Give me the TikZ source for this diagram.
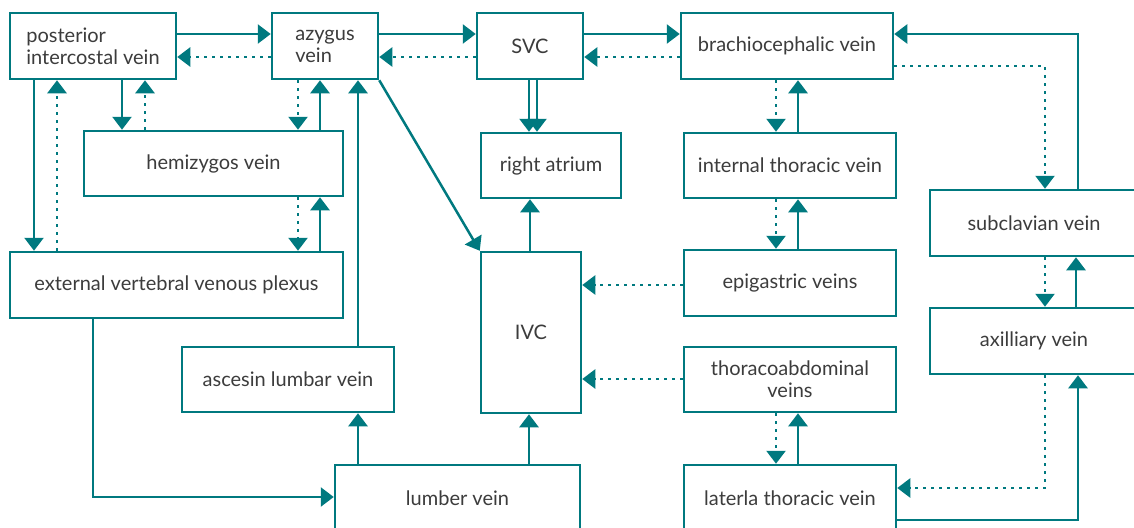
\documentclass[tikz,border=0pt]{standalone}
\usepackage{fontspec}
\setmainfont{Lato}
\usetikzlibrary{arrows.meta}

\definecolor{veinteal}{RGB}{0,121,127}
\definecolor{veintext}{RGB}{60,60,60}

\tikzset{
  vbox/.style={draw=veinteal, line width=2.5pt, fill=white, inner sep=0pt,
    text=veintext, font=\fontsize{20}{22}\selectfont, align=center},
  flow/.style={draw=veinteal, line width=2.5pt, -{Triangle[length=13pt,width=19pt]}},
  back/.style={flow, dash pattern=on 2.5pt off 5.5pt},
}

\begin{document}
\begin{tikzpicture}[x=1pt,y=1pt,yscale=-1,xscale=1]
        \useasboundingbox (0,0) rectangle (1134,527);
        \clip (0,0) rectangle (1134,527);

        % Text Node
        \draw (93,46) node [vbox, align=left, minimum width=166pt, minimum height=66pt] (pic) {posterior\\intercostal vein};
        % Text Node
        \draw (325,46) node [vbox, align=left, minimum width=106pt, minimum height=66pt] (azy) {azygus\\vein};
        % Text Node
        \draw (530,46) node [vbox, minimum width=106pt, minimum height=66pt] (svc) {SVC};
        % Text Node
        \draw (787,46) node [vbox, minimum width=212pt, minimum height=66pt] (brach) {brachiocephalic vein};
        % Text Node
        \draw (213.5,163.5) node [vbox, minimum width=259pt, minimum height=65pt] (hemi) {hemizygos vein};
        % Text Node
        \draw (551,165.5) node [vbox, minimum width=140pt, minimum height=65pt] (ra) {right atrium};
        % Text Node
        \draw (790,165.5) node [vbox, minimum width=212pt, minimum height=65pt] (int) {internal thoracic vein};
        % Text Node
        \draw (1034,223) node [vbox, minimum width=208pt, minimum height=66pt] (sub) {subclavian vein};
        % Text Node
        \draw (176.5,285) node [vbox, minimum width=333pt, minimum height=66pt] (ext) {external vertebral venous plexus};
        % Text Node
        \draw (790,283) node [vbox, minimum width=212pt, minimum height=66pt] (epi) {epigastric veins};
        % Text Node
        \draw (531,332.5) node [vbox, minimum width=100pt, minimum height=161pt] (ivc) {IVC};
        % Text Node
        \draw (1034,341) node [vbox, minimum width=208pt, minimum height=66pt] (axi) {axilliary vein};
        % Text Node
        \draw (288,379.5) node [vbox, minimum width=212pt, minimum height=65pt] (asc) {ascesin lumbar vein};
        % Text Node
        \draw (790,379.5) node [vbox, minimum width=212pt, minimum height=65pt] (tho) {thoracoabdominal\\veins};
        % Text Node
        \draw (457.5,498) node [vbox, minimum width=245pt, minimum height=66pt] (lum) {lumber vein};
        % Text Node
        \draw (790,498) node [vbox, minimum width=212pt, minimum height=66pt] (lat) {laterla thoracic vein};

        %Straight Lines: top row
        \draw [flow] (pic.east |- 0,34) -- (azy.west |- 0,34);
        \draw [back] (azy.west |- 0,57) -- (pic.east |- 0,57);
        \draw [flow] (azy.east |- 0,34) -- (svc.west |- 0,34);
        \draw [back] (svc.west |- 0,57) -- (azy.east |- 0,57);
        \draw [flow] (svc.east |- 0,34) -- (brach.west |- 0,34);
        \draw [back] (brach.west |- 0,57) -- (svc.east |- 0,57);

        %Straight Lines: left column
        \draw [flow] (34,0 |- pic.south) -- (34,0 |- ext.north);
        \draw [back] (57,0 |- ext.north) -- (57,0 |- pic.south);
        \draw [flow] (122,0 |- pic.south) -- (122,0 |- hemi.north);
        \draw [back] (145,0 |- hemi.north) -- (145,0 |- pic.south);
        \draw [back] (298,0 |- azy.south) -- (298,0 |- hemi.north);
        \draw [flow] (320,0 |- hemi.north) -- (320,0 |- azy.south);
        \draw [back] (298,0 |- hemi.south) -- (298,0 |- ext.north);
        \draw [flow] (320,0 |- ext.north) -- (320,0 |- hemi.south);
        \draw [flow] (358,0 |- asc.north) -- (358,0 |- azy.south);
        \draw [flow] (358,0 |- lum.north) -- (358,0 |- asc.south);
        \draw [flow] (93,0 |- ext.south) |- (lum.west |- 0,497);

        %Straight Lines: middle
        \draw [flow] (529,0 |- svc.south) -- (529,0 |- ra.north);
        \draw [flow] (537,0 |- svc.south) -- (537,0 |- ra.north);
        \draw [flow] (azy.south east) -- (ivc.north west);
        \draw [flow] (530,0 |- ivc.north) -- (530,0 |- ra.south);
        \draw [flow] (529,0 |- lum.north) -- (529,0 |- ivc.south);
        \draw [back] (epi.west |- 0,285) -- (ivc.east |- 0,285);
        \draw [back] (tho.west |- 0,379) -- (ivc.east |- 0,379);

        %Straight Lines: right column
        \draw [back] (776,0 |- brach.south) -- (776,0 |- int.north);
        \draw [flow] (798,0 |- int.north) -- (798,0 |- brach.south);
        \draw [back] (776,0 |- int.south) -- (776,0 |- epi.north);
        \draw [flow] (798,0 |- epi.north) -- (798,0 |- int.south);
        \draw [back] (776,0 |- tho.south) -- (776,0 |- lat.north);
        \draw [flow] (798,0 |- lat.north) -- (798,0 |- tho.south);
        \draw [flow] (1078,0 |- sub.north) |- (brach.east |- 0,34);
        \draw [back] (brach.east |- 0,66) -| (1045,0 |- sub.north);
        \draw [back] (1045,0 |- sub.south) -- (1045,0 |- axi.north);
        \draw [flow] (1076,0 |- axi.north) -- (1076,0 |- sub.south);
        \draw [back] (1045,0 |- axi.south) |- (lat.east |- 0,488);
        \draw [flow] (lat.east |- 0,520) -| (1078,0 |- axi.south);

\end{tikzpicture}
\end{document}
